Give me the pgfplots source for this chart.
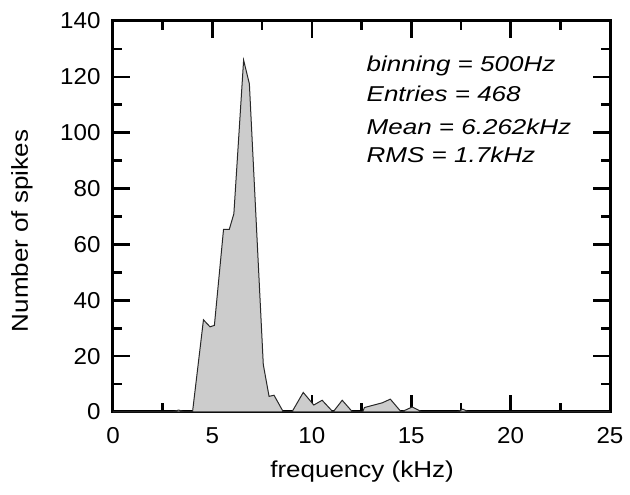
\documentclass[border=0pt]{standalone}
\usepackage{fontspec}
\setmainfont{Liberation Sans}[FakeStretch=1.05]
\newfontfamily\labfont{Liberation Sans}[FakeStretch=1.13]
\newfontfamily\annfont{Liberation Sans}[FakeStretch=1.21]
\usepackage{pgfplots}
\pgfplotsset{compat=1.18}
\definecolor{fillgray}{RGB}{204,204,204}
\definecolor{linegray}{RGB}{40,40,40}
\begin{document}
\begin{tikzpicture}
\useasboundingbox (0,0) rectangle (630pt,495pt);
\begin{axis}[
  at={(113pt,83pt)}, anchor=south west,
  scale only axis, width=497pt, height=391pt,
  xmin=0, xmax=25, ymin=0, ymax=140,
  xtick={0,5,...,25}, ytick={0,20,...,140},
  minor x tick num=1, minor y tick num=1,
  tick align=inside,
  major tick length=17pt, minor tick length=9pt,
  axis line style={line width=3pt},
  tick style={line width=2.6pt, black},
  /pgf/number format/assume math mode=true,
  ticklabel style={font=\fontsize{23}{27}\selectfont},
  xticklabel style={yshift=-12pt},
  yticklabel style={xshift=-9pt},
  label style={font=\labfont\fontsize{23}{27}\selectfont},
  xlabel={frequency (kHz)},
  ylabel={Number of spikes},
  xlabel style={at={(axis description cs:0.501,-0.152)}, anchor=center},
  ylabel style={at={(axis description cs:-0.183,0.463)}, anchor=center},
  clip=false,
]
\addplot[fill=fillgray, draw=linegray, line width=1pt] coordinates {
(0,0) (3.0,0) (3.3,0.7) (3.6,0) (4.0,0) (4.55,33) (4.88,30.5) (5.1,31)
(5.56,65.4) (5.85,65.4) (6.08,71) (6.57,126) (6.86,117.5) (7.56,17)
(7.85,5.6) (8.1,6) (8.57,0) (9.0,0) (9.57,7) (10.1,2.5) (10.52,4.2)
(11.07,0) (11.53,4.2) (12.05,0) (12.55,0) (12.65,1.6) (13.55,3.3)
(13.95,4.6) (14.5,0) (15.05,1.8) (15.55,0) (17.3,0) (17.6,1) (17.9,0) (25,0)
} \closedcycle;
\node[anchor=base west, inner sep=0pt, font=\annfont\itshape\fontsize{21.5}{24}\selectfont] at (axis cs:12.75,122) {binning = 500Hz};
\node[anchor=base west, inner sep=0pt, font=\annfont\itshape\fontsize{21.5}{24}\selectfont] at (axis cs:12.75,111) {Entries = 468};
\node[anchor=base west, inner sep=0pt, font=\annfont\itshape\fontsize{21.5}{24}\selectfont] at (axis cs:12.75,99.5) {Mean = 6.262kHz};
\node[anchor=base west, inner sep=0pt, font=\annfont\itshape\fontsize{21.5}{24}\selectfont] at (axis cs:12.75,89.5) {RMS = 1.7kHz};
\end{axis}
\end{tikzpicture}
\end{document}
